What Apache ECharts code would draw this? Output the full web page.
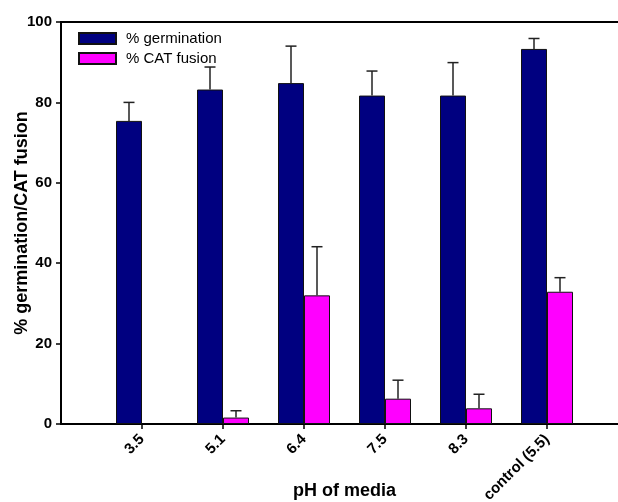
<!DOCTYPE html>
<html>
<head>
<meta charset="utf-8">
<script src="https://cdn.jsdelivr.net/npm/echarts@6/dist/echarts.min.js"></script>
<style>
  html, body { margin: 0; padding: 0; background: #fff; }
  #chart { width: 618px; height: 502px; }
</style>
</head>
<body>
<div id="chart"></div>
<script>
// pH of the germination media
const categories = ['3.5', '5.1', '6.4', '7.5', '8.3', 'control (5.5)'];
// mean % germination and its upper error
const germination = [75.4, 83.2, 84.8, 81.7, 81.7, 93.3];
const germinationErr = [4.6, 5.6, 9.2, 6.1, 8.2, 2.6];
// mean % CAT fusion and its upper error (none measured at pH 3.5)
const catFusion = [null, 1.6, 32.0, 6.3, 3.9, 32.9];
const catFusionErr = [null, 1.7, 12.1, 4.6, 3.5, 3.5];
const yTicks = [0, 20, 40, 60, 80, 100];

const BAR_W = 26;
const FONT = 'Liberation Sans, Arial, sans-serif';

// blank slots either side keep the groups off the axis ends
const axisCats = [''].concat(categories, ['']);
const pad = arr => [null].concat(arr, [null]);

function errorData(vals, errs) {
  const out = [];
  vals.forEach((v, i) => {
    if (v != null && errs[i] != null) out.push([i + 1, v, v + errs[i]]);
  });
  return out;
}

function errorSeries(name, vals, errs, offset) {
  return {
    type: 'custom',
    name: name + ' error',
    z: 5,
    silent: true,
    encode: { x: 0, y: [1, 2] },
    data: errorData(vals, errs),
    renderItem: (params, api) => {
      const base = api.coord([api.value(0), api.value(1)]);
      const top = api.coord([api.value(0), api.value(2)]);
      const x = base[0] + offset;
      const half = 5.5;
      const style = { stroke: '#222', lineWidth: 1.5, fill: null };
      return {
        type: 'group',
        children: [
          { type: 'line', shape: { x1: x, y1: base[1], x2: x, y2: top[1] }, style },
          { type: 'line', shape: { x1: x - half, y1: top[1], x2: x + half, y2: top[1] }, style }
        ]
      };
    }
  };
}

const chart = echarts.init(document.getElementById('chart'), null, { renderer: 'canvas' });

chart.setOption({
  animation: false,
  backgroundColor: '#fff',
  textStyle: { fontFamily: FONT },
  grid: {
    left: 61, right: -10, top: 22, bottom: 78,
    outerBoundsMode: 'none',
    containLabel: false,
    show: true, borderColor: '#000', borderWidth: 2, backgroundColor: 'transparent'
  },
  legend: {
    orient: 'vertical',
    left: 78, top: 31,
    padding: 0,
    icon: 'rect',
    itemWidth: 37, itemHeight: 11, itemGap: 5,
    data: ['% germination', '% CAT fusion'],
    textStyle: { fontFamily: FONT, fontSize: 15, color: '#000', padding: [0, 0, 0, 5] }
  },
  xAxis: {
    type: 'category',
    data: axisCats,
    boundaryGap: false,
    name: 'pH of media',
    nameLocation: 'middle',
    nameGap: 58,
    nameMoveOverlap: false,
    nameTextStyle: { fontFamily: FONT, fontSize: 18, fontWeight: 'bold', color: '#000' },
    axisLine: { lineStyle: { color: '#000', width: 2 } },
    axisTick: {
      show: true, length: 5, inside: false,
      interval: (i, v) => v !== '',
      lineStyle: { color: '#000', width: 1.5 }
    },
    axisLabel: {
      interval: 0, rotate: 45, margin: 13,
      fontFamily: FONT, fontSize: 15, fontWeight: 'bold', color: '#000'
    },
    splitLine: { show: false }
  },
  yAxis: {
    type: 'value',
    min: yTicks[0], max: yTicks[yTicks.length - 1], interval: 20,
    name: '% germination/CAT fusion',
    nameLocation: 'middle',
    nameGap: 30,
    nameMoveOverlap: false,
    nameTextStyle: { fontFamily: FONT, fontSize: 18, fontWeight: 'bold', color: '#000' },
    axisLine: { show: true, lineStyle: { color: '#000', width: 2 } },
    axisTick: { show: true, length: 5, lineStyle: { color: '#000', width: 1.5 } },
    axisLabel: { margin: 9, fontFamily: FONT, fontSize: 15, fontWeight: 'bold', color: '#000' },
    splitLine: { show: false }
  },
  series: [
    {
      name: '% germination',
      type: 'bar',
      barWidth: BAR_W,
      barGap: '0%',
      data: pad(germination),
      itemStyle: { color: '#000080', borderColor: '#111', borderWidth: 1 }
    },
    {
      name: '% CAT fusion',
      type: 'bar',
      barWidth: BAR_W,
      barGap: '0%',
      data: pad(catFusion),
      itemStyle: { color: '#ff00ff', borderColor: '#111', borderWidth: 1 }
    },
    errorSeries('% germination', germination, germinationErr, -BAR_W / 2),
    errorSeries('% CAT fusion', catFusion, catFusionErr, BAR_W / 2)
  ]
});
</script>
</body>
</html>
